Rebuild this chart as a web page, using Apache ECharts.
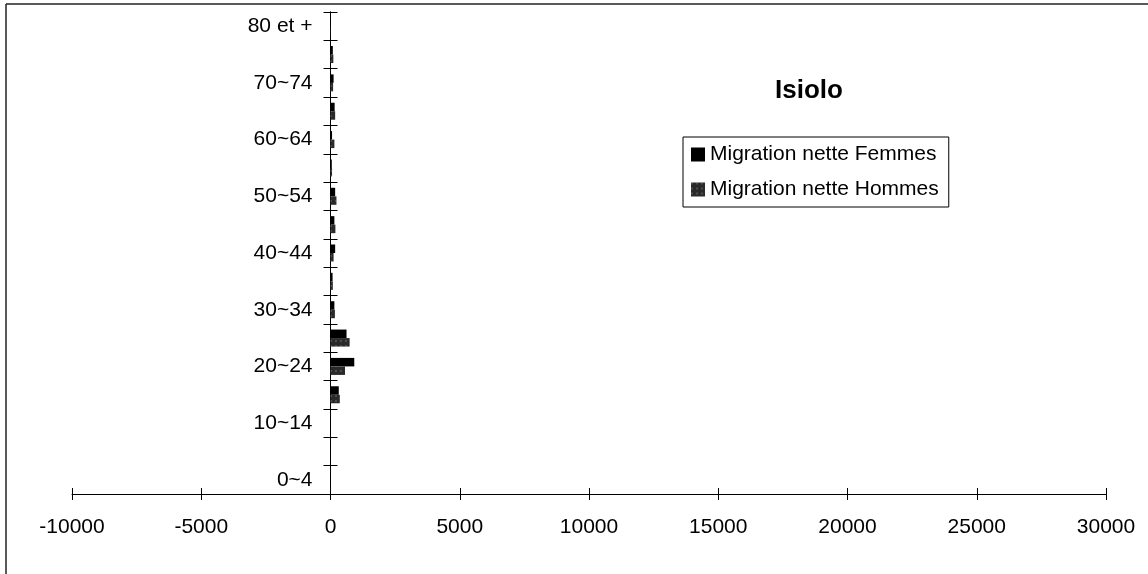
<!DOCTYPE html>
<html><head><meta charset="utf-8">
<script src="https://cdn.jsdelivr.net/npm/echarts@6/dist/echarts.min.js"></script>
<style>html,body{margin:0;padding:0;background:#fff}#c{width:1148px;height:574px}</style>
</head><body><div id="c"></div>
<script>
const categories = ['0~4','5~9','10~14','15~19','20~24','25~29','30~34','35~39','40~44','45~49','50~54','55~59','60~64','65~69','70~74','75~79','80 et +'];
const femmes = [0,0,0,320,920,620,150,80,180,150,180,50,60,160,120,90,10];
const hommes = [0,0,0,360,560,740,170,90,120,190,230,60,150,180,100,110,10];
const xTicks = { min: -10000, max: 30000, step: 5000 };
const titleText = 'Isiolo';
const seriesNames = ['Migration nette Femmes', 'Migration nette Hommes'];

const FONT = "'Liberation Sans', Arial, sans-serif";
const W = 1148, GL = 72, GR = 42;
// pixel distance from grid left edge to the x = 0 crossing, derived from the axis range
const zeroOffset = (W - GL - GR) * (0 - xTicks.min) / (xTicks.max - xTicks.min);

const chart = echarts.init(document.getElementById('c'), null, {renderer: 'canvas'});
const xBase = {
  type: 'value', min: xTicks.min, max: xTicks.max, interval: xTicks.step,
  splitLine: {show: false}
};
const yBase = { type: 'category', data: categories, boundaryGap: true, splitLine: {show: false}, position: 'left' };
chart.setOption({
  animation: false,
  backgroundColor: '#fff',
  title: {
    text: titleText, left: 775, top: 78, padding: 0,
    textStyle: {fontFamily: FONT, fontSize: 26, fontWeight: 'bold', color: '#000'}
  },
  legend: {
    orient: 'vertical', left: 683, top: 137, padding: [7, 10, 7, 8],
    borderColor: '#000', borderWidth: 1, itemWidth: 14, itemHeight: 14, itemGap: 14,
    icon: 'rect',
    data: seriesNames,
    textStyle: {fontFamily: FONT, fontSize: 21, color: '#000'}
  },
  grid: {left: GL, right: GR, top: 12, bottom: 80, containLabel: false, outerBoundsMode: 'none'},
  xAxis: [
    Object.assign({}, xBase, {
      position: 'bottom',
      axisLine: {show: true, onZero: false, lineStyle: {color: '#000', width: 1}},
      axisTick: {show: true, length: 6, lineStyle: {color: '#000'}},
      axisLabel: {margin: 23, fontFamily: FONT, fontSize: 21, color: '#000', formatter: v => String(v)}
    }),
    Object.assign({}, xBase, {
      position: 'bottom',
      axisLine: {show: false, onZero: false},
      axisTick: {show: true, inside: true, length: 6, lineStyle: {color: '#000'}},
      axisLabel: {show: false}
    })
  ],
  yAxis: [
    Object.assign({}, yBase, {
      offset: -zeroOffset,
      axisLine: {show: true, onZero: false, lineStyle: {color: '#000', width: 1}},
      axisTick: {show: true, interval: 0, length: 7, lineStyle: {color: '#000'}},
      axisLabel: {interval: 1, margin: 18, fontFamily: FONT, fontSize: 21, color: '#000'}
    }),
    Object.assign({}, yBase, {
      offset: -zeroOffset,
      axisLine: {show: true, onZero: false, lineStyle: {color: '#000', width: 1}},
      axisTick: {show: true, inside: true, interval: 0, length: 7, lineStyle: {color: '#000'}},
      axisLabel: {show: false}
    })
  ],
  series: [
    {
      name: seriesNames[0], type: 'bar', data: femmes, xAxisIndex: 0, yAxisIndex: 0,
      barCategoryGap: '40%', barGap: '0%',
      itemStyle: {color: '#000'}
    },
    {
      name: seriesNames[1], type: 'bar', data: hommes, xAxisIndex: 0, yAxisIndex: 0,
      barCategoryGap: '40%', barGap: '0%',
      itemStyle: {
        color: '#2a2a2a',
        decal: {symbol: 'rect', symbolSize: 0.6, color: 'rgba(255,255,255,0.55)', dashArrayX: [2, 3], dashArrayY: [2, 3], rotation: 0}
      }
    }
  ],
  graphic: [
    {type: 'line', shape: {x1: 6, y1: 4, x2: 1148, y2: 4}, style: {stroke: '#222', lineWidth: 1.5}, silent: true},
    {type: 'line', shape: {x1: 6, y1: 4, x2: 6, y2: 574}, style: {stroke: '#222', lineWidth: 1.5}, silent: true}
  ]
});
</script>
</body></html>
